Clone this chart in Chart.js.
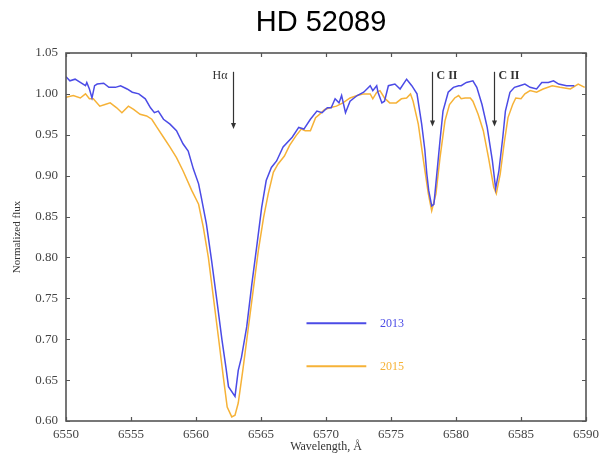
<!DOCTYPE html>
<html>
<head>
<meta charset="utf-8">
<script src="https://cdn.jsdelivr.net/npm/chart.js@4/dist/chart.umd.min.js"></script>
<style>
  html, body { margin: 0; padding: 0; background: #fff; }
  #wrap { width: 599px; height: 462px; }
</style>
</head>
<body>
<div id="wrap"><canvas id="spec"></canvas></div>
<script>
// spectrum of HD 52089
const wl2013 = [6550.0, 6550.3, 6550.7, 6551.1, 6551.5, 6551.6, 6551.8, 6552.0, 6552.2, 6552.4, 6552.9, 6553.3, 6553.8, 6554.2, 6554.7, 6555.1, 6555.6, 6556.1, 6556.5, 6556.8, 6557.1, 6557.5, 6558.0, 6558.5, 6559.0, 6559.4, 6559.8, 6560.2, 6560.4, 6560.8, 6561.2, 6561.6, 6562.0, 6562.3, 6562.5, 6563.0, 6563.25, 6563.5, 6563.9, 6564.3, 6564.7, 6565.05, 6565.4, 6565.8, 6566.2, 6566.7, 6567.4, 6567.9, 6568.3, 6568.8, 6569.3, 6569.7, 6570.1, 6570.4, 6570.7, 6571.0, 6571.2, 6571.5, 6571.85, 6572.4, 6572.9, 6573.4, 6573.6, 6573.9, 6574.0, 6574.3, 6574.5, 6574.8, 6575.3, 6575.7, 6576.2, 6576.6, 6577.0, 6577.36, 6577.6, 6577.75, 6577.9, 6578.13, 6578.3, 6578.5, 6578.77, 6579.0, 6579.4, 6579.8, 6580.2, 6580.4, 6580.8, 6581.3, 6581.6, 6582.0, 6582.4, 6582.8, 6583.05, 6583.3, 6583.6, 6583.8, 6584.15, 6584.5, 6584.9, 6585.3, 6585.7, 6586.2, 6586.6, 6587.1, 6587.5, 6587.9, 6588.5, 6589.1];
const flux2013 = [1.021, 1.016, 1.018, 1.014, 1.010, 1.014, 1.006, 0.995, 1.010, 1.012, 1.013, 1.008, 1.008, 1.010, 1.006, 1.002, 1.000, 0.994, 0.983, 0.977, 0.979, 0.969, 0.963, 0.955, 0.939, 0.930, 0.908, 0.890, 0.874, 0.841, 0.796, 0.748, 0.699, 0.666, 0.642, 0.630, 0.662, 0.678, 0.715, 0.768, 0.817, 0.861, 0.894, 0.910, 0.918, 0.935, 0.947, 0.959, 0.957, 0.969, 0.979, 0.977, 0.983, 0.983, 0.994, 0.989, 0.998, 0.977, 0.991, 0.998, 1.002, 1.010, 1.004, 1.010, 1.002, 0.989, 0.991, 1.010, 1.012, 1.006, 1.018, 1.010, 1.000, 0.963, 0.932, 0.903, 0.882, 0.863, 0.865, 0.898, 0.943, 0.979, 1.002, 1.008, 1.010, 1.010, 1.014, 1.016, 1.008, 0.987, 0.959, 0.918, 0.884, 0.906, 0.947, 0.979, 1.002, 1.008, 1.010, 1.012, 1.008, 1.006, 1.014, 1.014, 1.016, 1.012, 1.010, 1.010];

const wl2015 = [6550.0, 6550.56, 6551.1, 6551.5, 6551.8, 6552.1, 6552.6, 6553.0, 6553.4, 6553.9, 6554.3, 6554.8, 6555.2, 6555.7, 6556.2, 6556.6, 6557.0, 6557.5, 6558.0, 6558.5, 6559.0, 6559.67, 6560.2, 6560.56, 6560.95, 6561.33, 6561.72, 6562.1, 6562.4, 6562.75, 6563.0, 6563.25, 6563.6, 6564.0, 6564.4, 6564.8, 6565.2, 6565.56, 6565.95, 6566.3, 6566.8, 6567.2, 6567.7, 6568.1, 6568.4, 6568.8, 6569.2, 6569.5, 6569.9, 6570.3, 6570.8, 6571.3, 6571.85, 6572.4, 6572.9, 6573.4, 6573.6, 6573.9, 6574.15, 6574.5, 6574.9, 6575.4, 6575.8, 6576.2, 6576.5, 6576.7, 6577.1, 6577.5, 6577.87, 6578.13, 6578.46, 6578.77, 6579.15, 6579.5, 6579.9, 6580.2, 6580.4, 6580.7, 6581.1, 6581.3, 6581.7, 6582.1, 6582.5, 6582.9, 6583.1, 6583.4, 6583.7, 6584.0, 6584.36, 6584.6, 6585.0, 6585.3, 6585.7, 6586.2, 6586.7, 6587.4, 6588.0, 6588.8, 6589.4, 6589.9];
const flux2015 = [0.996, 0.998, 0.995, 1.000, 0.994, 0.994, 0.985, 0.987, 0.989, 0.983, 0.977, 0.985, 0.981, 0.975, 0.973, 0.969, 0.959, 0.947, 0.935, 0.922, 0.906, 0.882, 0.865, 0.837, 0.800, 0.752, 0.703, 0.654, 0.617, 0.605, 0.607, 0.622, 0.662, 0.711, 0.760, 0.809, 0.849, 0.878, 0.904, 0.914, 0.924, 0.937, 0.949, 0.957, 0.955, 0.955, 0.971, 0.975, 0.981, 0.983, 0.985, 0.989, 0.995, 0.998, 1.000, 1.000, 0.994, 1.002, 1.004, 0.995, 0.989, 0.989, 0.994, 0.995, 1.000, 0.991, 0.963, 0.918, 0.878, 0.857, 0.878, 0.922, 0.967, 0.987, 0.995, 0.998, 0.994, 0.995, 0.995, 0.991, 0.975, 0.955, 0.922, 0.886, 0.878, 0.902, 0.939, 0.971, 0.987, 0.995, 0.994, 1.000, 1.004, 1.002, 1.006, 1.010, 1.008, 1.006, 1.012, 1.008];

const seriesNames = ['2013', '2015'];
const seriesColors = ['#4b4be6', '#f6b237'];

const xTicks = [6550, 6555, 6560, 6565, 6570, 6575, 6580, 6585, 6590];
const yTicks = [0.60, 0.65, 0.70, 0.75, 0.80, 0.85, 0.90, 0.95, 1.00, 1.05];

// line markers: wavelength, label
const lineWl = [6562.85, 6578.13, 6582.9];
const lineLabels = ['Hα', 'C II', 'C II'];

const SERIF = "'Liberation Serif', 'DejaVu Serif', serif";

function toPts(xs, ys) {
    return xs.map((x, i) => ({ x: x, y: ys[i] }));
}

const decor = {
    id: 'decor',
    afterDraw(chart) {
        const ctx = chart.ctx;
        const a = chart.chartArea;
        const sx = chart.scales.x, sy = chart.scales.y;
        ctx.save();

        // frame with inward ticks
        ctx.strokeStyle = '#555';
        ctx.lineWidth = 1.6;
        ctx.strokeRect(a.left, a.top, a.right - a.left, a.bottom - a.top);
        ctx.lineWidth = 1.2;
        ctx.beginPath();
        xTicks.forEach(v => {
            const px = Math.round(sx.getPixelForValue(v)) + 0.5;
            ctx.moveTo(px, a.bottom); ctx.lineTo(px, a.bottom - 4);
            ctx.moveTo(px, a.top); ctx.lineTo(px, a.top + 4);
        });
        yTicks.forEach(v => {
            const py = Math.round(sy.getPixelForValue(v)) + 0.5;
            ctx.moveTo(a.left, py); ctx.lineTo(a.left + 4, py);
            ctx.moveTo(a.right, py); ctx.lineTo(a.right - 4, py);
        });
        ctx.stroke();

        // arrows for spectral lines
        ctx.strokeStyle = '#333';
        ctx.fillStyle = '#333';
        ctx.lineWidth = 1.2;
        lineWl.forEach((w, i) => {
            const px = Math.round(sx.getPixelForValue(w)) + 0.5;
            const y0 = sy.getPixelForValue(1.027);
            const y1 = sy.getPixelForValue(i === 0 ? 0.957 : 0.960);
            ctx.beginPath();
            ctx.moveTo(px, y0); ctx.lineTo(px, y1 - 4);
            ctx.stroke();
            ctx.beginPath();
            ctx.moveTo(px - 2.5, y1 - 6); ctx.lineTo(px + 2.5, y1 - 6); ctx.lineTo(px, y1);
            ctx.closePath();
            ctx.fill();
            ctx.font = (i === 0 ? '' : 'bold ') + '12px ' + SERIF;
            ctx.textBaseline = 'middle';
            if (i === 0) {
                ctx.textAlign = 'right';
                ctx.fillText(lineLabels[i], px - 6, sy.getPixelForValue(1.022));
            } else {
                ctx.textAlign = 'left';
                ctx.fillText(lineLabels[i], px + 4, sy.getPixelForValue(1.022));
            }
        });

        // legend inside the plot
        const legY = [0.7195, 0.667];
        seriesNames.forEach((name, i) => {
            const py = sy.getPixelForValue(legY[i]);
            ctx.strokeStyle = seriesColors[i];
            ctx.lineWidth = 2;
            ctx.beginPath();
            ctx.moveTo(sx.getPixelForValue(6568.5), py);
            ctx.lineTo(sx.getPixelForValue(6573.1), py);
            ctx.stroke();
            ctx.fillStyle = seriesColors[i];
            ctx.font = '12px ' + SERIF;
            ctx.textAlign = 'left';
            ctx.textBaseline = 'middle';
            ctx.fillText(name, sx.getPixelForValue(6574.15), py + 1);
        });

        // title
        ctx.fillStyle = '#000';
        ctx.font = "29px 'Liberation Sans', Arial, sans-serif";
        ctx.textAlign = 'center';
        ctx.textBaseline = 'middle';
        ctx.fillText('HD 52089', 321, 23);
        ctx.restore();
    }
};

new Chart(document.getElementById('spec'), {
    type: 'line',
    data: {
        datasets: [
            { label: seriesNames[0], data: toPts(wl2013, flux2013), borderColor: seriesColors[0], borderWidth: 1.5, pointRadius: 0, tension: 0 },
            { label: seriesNames[1], data: toPts(wl2015, flux2015), borderColor: seriesColors[1], borderWidth: 1.5, pointRadius: 0, tension: 0 }
        ]
    },
    options: {
        responsive: true,
        maintainAspectRatio: false,
        animation: false,
        layout: { padding: { top: 53, right: 13, left: 0, bottom: 0 } },
        plugins: {
            legend: { display: false },
            tooltip: { enabled: false }
        },
        scales: {
            x: {
                type: 'linear',
                min: 6550,
                max: 6590,
                afterBuildTicks: s => { s.ticks = xTicks.map(v => ({ value: v })); },
                afterFit: s => { s.height = 41; s.paddingLeft = 0; s.paddingRight = 0; },
                grid: { display: false, drawTicks: false },
                border: { display: false },
                ticks: {
                    autoSkip: false,
                    maxRotation: 0,
                    padding: 6,
                    color: '#444',
                    font: { family: SERIF, size: 13 },
                    callback: v => String(v)
                },
                title: {
                    display: true,
                    text: 'Wavelength, Å',
                    color: '#333',
                    font: { family: SERIF, size: 12 },
                    padding: { top: 0, bottom: 8 }
                }
            },
            y: {
                min: 0.6,
                max: 1.05,
                afterBuildTicks: s => { s.ticks = yTicks.map(v => ({ value: v })); },
                afterFit: s => { s.width = 66; s.paddingTop = 0; s.paddingBottom = 0; },
                grid: { display: false, drawTicks: false },
                border: { display: false },
                ticks: {
                    padding: 8,
                    color: '#444',
                    font: { family: SERIF, size: 13 },
                    callback: v => v.toFixed(2)
                },
                title: {
                    display: true,
                    text: 'Normalized flux',
                    color: '#333',
                    font: { family: SERIF, size: 11 },
                    padding: { top: 11, bottom: 0 }
                }
            }
        }
    },
    plugins: [decor]
});
</script>
</body>
</html>
